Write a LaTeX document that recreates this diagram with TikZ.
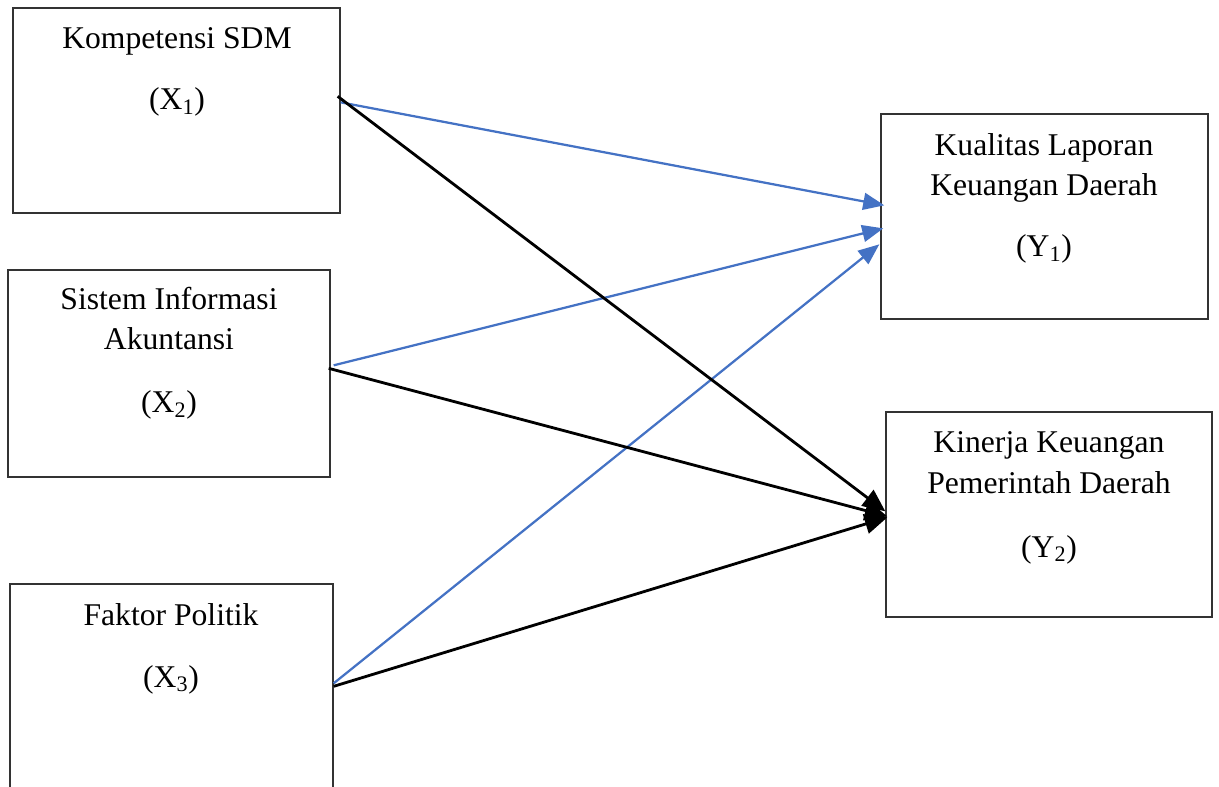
\documentclass[tikz,border=0pt]{standalone}
\usepackage{fontspec}
\setmainfont{Liberation Serif}
\usetikzlibrary{positioning,arrows.meta,calc}
\definecolor{wordblue}{HTML}{4472C4}
\definecolor{frame}{HTML}{333333}

\tikzset{
  box/.style={draw=frame,line width=.9pt,inner sep=0pt},
  lbl/.style={anchor=base,align=center,inner sep=0pt,
    font=\fontsize{22.5}{29}\selectfont},
  bluearr/.style={wordblue,line width=1.6pt,-{Triangle[length=15pt,width=12pt]}},
  blackarr/.style={black,line width=2pt,-{Triangle[length=16pt,width=14pt]}}
}

\begin{document}
\begin{tikzpicture}[x=0.025cm,y=-0.025cm]
  \useasboundingbox (0,0) rectangle (1219,787);
  % variables
  \node[box,minimum width=8.175cm,minimum height=5.125cm] (x1) at (176.5,110.5) {};
  \node[box,minimum width=8.05cm,minimum height=5.175cm] (x2) at (169,373.5) {};
  \node[box,minimum width=8.075cm,minimum height=5.4cm] (x3) at (171.5,692) {};
  \node[box,minimum width=8.175cm,minimum height=5.125cm] (y1) at (1044.5,216.5) {};
  \node[box,minimum width=8.15cm,minimum height=5.125cm] (y2) at (1049,514.5) {};
  % labels (base = last line)
  \node[lbl] (x1name) at (177,49) {Kompetensi SDM};
  \node[lbl] (x1sym) at (177,110) {(X\textsubscript{1})};
  \node[lbl] (x2name) at (169,350) {Sistem Informasi\\Akuntansi};
  \node[lbl] (x2sym) at (169,413) {(X\textsubscript{2})};
  \node[lbl] (x3name) at (171,625) {Faktor Politik};
  \node[lbl] (x3sym) at (171,687) {(X\textsubscript{3})};
  \node[lbl] (y1name) at (1044,196) {Kualitas Laporan\\Keuangan Daerah};
  \node[lbl] (y1sym) at (1044,257) {(Y\textsubscript{1})};
  \node[lbl] (y2name) at (1049,493) {Kinerja Keuangan\\Pemerintah Daerah};
  \node[lbl] (y2sym) at (1049,557) {(Y\textsubscript{2})};
  % arrow ends
  \coordinate (s1b) at ($(x1.north east)+(0,95)$);
  \coordinate (s1k) at ($(x1.north east)+(-3,89)$);
  \coordinate (s2b) at ($(x2.north east)+(3,96)$);
  \coordinate (s2k) at ($(x2.north east)+(-2,99)$);
  \coordinate (s3b) at ($(x3.north east)+(0,100)$);
  \coordinate (s3k) at ($(x3.north east)+(0,103)$);
  \coordinate (e1a) at ($(y1.north west)+(4,92)$);
  \coordinate (e1b) at ($(y1.north west)+(3,115)$);
  \coordinate (e1c) at ($(y1.north west)+(-1,131)$);
  \coordinate (e2a) at ($(y2.north west)+(0,100)$);
  \coordinate (e2b) at ($(y2.north west)+(2,105)$);
  \coordinate (e2c) at ($(y2.north west)+(2,106)$);
  \draw[bluearr] (s1b) -- (e1a);
  \draw[bluearr] (s2b) -- (e1b);
  \draw[bluearr] (s3b) -- (e1c);
  \draw[blackarr] (s1k) -- (e2a);
  \draw[blackarr] (s2k) -- (e2b);
  \draw[blackarr] (s3k) -- (e2c);
\end{tikzpicture}
\end{document}
